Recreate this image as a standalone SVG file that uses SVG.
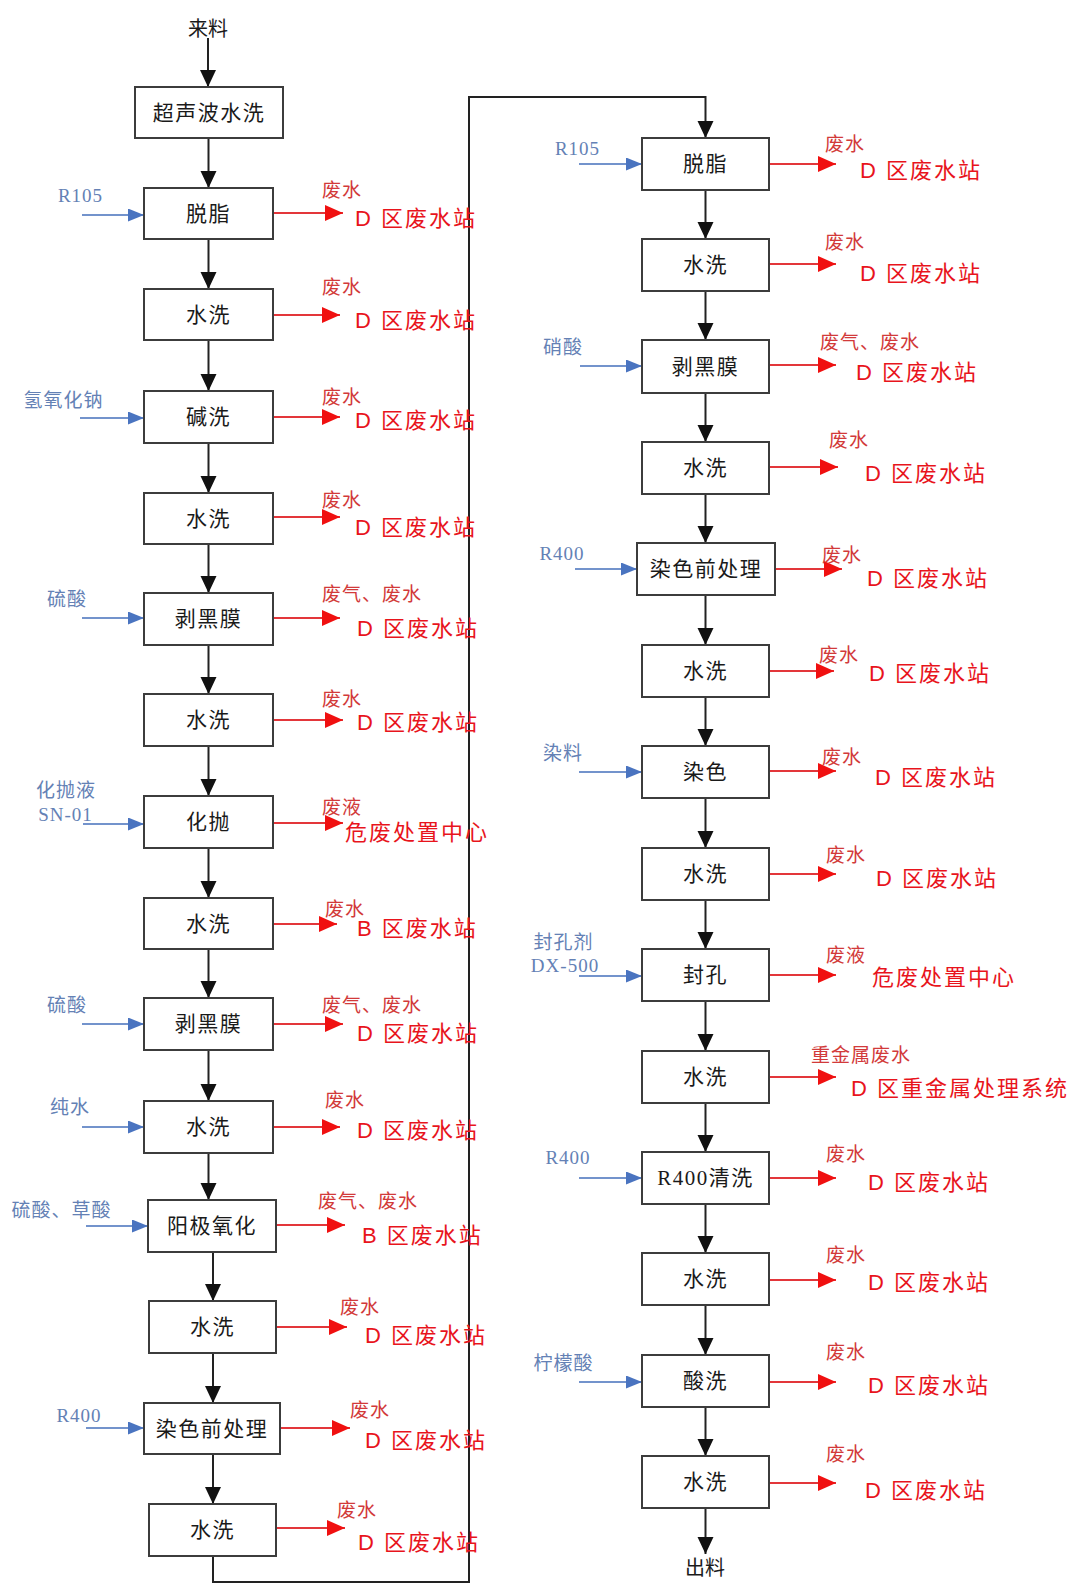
<svg xmlns="http://www.w3.org/2000/svg" width="1073" height="1584" viewBox="0 0 1073 1584">
<style>
.box{fill:#fff;stroke:#3c3c3c;stroke-width:2}
.bl{font-family:"Liberation Serif","Noto Sans CJK SC",serif;font-size:21px;fill:#1a1a1a;letter-spacing:1.5px;text-anchor:middle;dominant-baseline:central}
.term{font-family:"Noto Sans CJK SC",sans-serif;font-size:20px;fill:#1a1a1a;text-anchor:middle;dominant-baseline:central}
.in{font-family:"Liberation Serif","Noto Sans CJK SC",serif;font-size:19px;fill:#6481b5;letter-spacing:1px;text-anchor:middle;dominant-baseline:central}
.ws{font-family:"Noto Sans CJK SC",sans-serif;font-size:19px;fill:#d23a3a;letter-spacing:1px;dominant-baseline:central}
.wd{font-family:"Liberation Sans","Noto Sans CJK SC",sans-serif;font-size:22px;fill:#e8141c;letter-spacing:2px;dominant-baseline:central}
.k{stroke:#222;stroke-width:2;fill:none}
.r{stroke:#e3363a;stroke-width:2;fill:none}
.b{stroke:#7393cc;stroke-width:2;fill:none}
</style>
<defs>
<marker id="ak" markerUnits="userSpaceOnUse" markerWidth="18" markerHeight="17" refX="17" refY="8" orient="auto"><path d="M0,0 L17,8 L0,16 z" fill="#111"/></marker>
<marker id="ar" markerUnits="userSpaceOnUse" markerWidth="19" markerHeight="17" refX="18" refY="8" orient="auto"><path d="M0,0 L18,8 L0,16 z" fill="#f01010"/></marker>
<marker id="ab" markerUnits="userSpaceOnUse" markerWidth="17" markerHeight="14" refX="16" refY="6.5" orient="auto"><path d="M0,0 L16,6.5 L0,13 z" fill="#4a74c0"/></marker>
</defs>
<rect width="1073" height="1584" fill="#fff"/>

<g id="connectors">
<!-- main flow left -->
<line class="k" x1="208" y1="38" x2="208" y2="87" marker-end="url(#ak)"/>
<line class="k" x1="208.5" y1="138" x2="208.5" y2="188" marker-end="url(#ak)"/>
<line class="k" x1="208.5" y1="239" x2="208.5" y2="289" marker-end="url(#ak)"/>
<line class="k" x1="208.5" y1="340" x2="208.5" y2="391" marker-end="url(#ak)"/>
<line class="k" x1="208.5" y1="443" x2="208.5" y2="493" marker-end="url(#ak)"/>
<line class="k" x1="208.5" y1="544" x2="208.5" y2="593" marker-end="url(#ak)"/>
<line class="k" x1="208.5" y1="645" x2="208.5" y2="694" marker-end="url(#ak)"/>
<line class="k" x1="208.5" y1="746" x2="208.5" y2="796" marker-end="url(#ak)"/>
<line class="k" x1="208.5" y1="848" x2="208.5" y2="898" marker-end="url(#ak)"/>
<line class="k" x1="208.5" y1="949" x2="208.5" y2="998" marker-end="url(#ak)"/>
<line class="k" x1="208.5" y1="1050" x2="208.5" y2="1101" marker-end="url(#ak)"/>
<line class="k" x1="208.5" y1="1153" x2="208.5" y2="1200" marker-end="url(#ak)"/>
<line class="k" x1="213" y1="1252" x2="213" y2="1301" marker-end="url(#ak)"/>
<line class="k" x1="213" y1="1353" x2="213" y2="1403" marker-end="url(#ak)"/>
<line class="k" x1="213" y1="1454" x2="213" y2="1504" marker-end="url(#ak)"/>
<polyline class="k" points="213,1556 213,1582 469,1582 469,97 705.5,97 705.5,138" stroke="#555" marker-end="url(#ak)"/>
<!-- main flow right -->
<line class="k" x1="705.5" y1="190" x2="705.5" y2="239" marker-end="url(#ak)"/>
<line class="k" x1="705.5" y1="291" x2="705.5" y2="340" marker-end="url(#ak)"/>
<line class="k" x1="705.5" y1="393" x2="705.5" y2="442" marker-end="url(#ak)"/>
<line class="k" x1="705.5" y1="494" x2="705.5" y2="543" marker-end="url(#ak)"/>
<line class="k" x1="705.5" y1="595" x2="705.5" y2="645" marker-end="url(#ak)"/>
<line class="k" x1="705.5" y1="697" x2="705.5" y2="746" marker-end="url(#ak)"/>
<line class="k" x1="705.5" y1="798" x2="705.5" y2="848" marker-end="url(#ak)"/>
<line class="k" x1="705.5" y1="900" x2="705.5" y2="949" marker-end="url(#ak)"/>
<line class="k" x1="705.5" y1="1001" x2="705.5" y2="1051" marker-end="url(#ak)"/>
<line class="k" x1="705.5" y1="1103" x2="705.5" y2="1152" marker-end="url(#ak)"/>
<line class="k" x1="705.5" y1="1204" x2="705.5" y2="1253" marker-end="url(#ak)"/>
<line class="k" x1="705.5" y1="1305" x2="705.5" y2="1355" marker-end="url(#ak)"/>
<line class="k" x1="705.5" y1="1407" x2="705.5" y2="1456" marker-end="url(#ak)"/>
<line class="k" x1="705.5" y1="1508" x2="705.5" y2="1554" marker-end="url(#ak)"/>
<!-- inputs left -->
<line class="b" x1="82" y1="215" x2="144" y2="215" marker-end="url(#ab)"/>
<line class="b" x1="80" y1="418" x2="144" y2="418" marker-end="url(#ab)"/>
<line class="b" x1="82" y1="618" x2="144" y2="618" marker-end="url(#ab)"/>
<line class="b" x1="83" y1="824" x2="144" y2="824" marker-end="url(#ab)"/>
<line class="b" x1="82" y1="1024" x2="144" y2="1024" marker-end="url(#ab)"/>
<line class="b" x1="82" y1="1127" x2="144" y2="1127" marker-end="url(#ab)"/>
<line class="b" x1="86" y1="1226" x2="148" y2="1226" marker-end="url(#ab)"/>
<line class="b" x1="86" y1="1428" x2="144" y2="1428" marker-end="url(#ab)"/>
<!-- inputs right -->
<line class="b" x1="579" y1="164" x2="642" y2="164" marker-end="url(#ab)"/>
<line class="b" x1="580" y1="366" x2="642" y2="366" marker-end="url(#ab)"/>
<line class="b" x1="575" y1="569" x2="637" y2="569" marker-end="url(#ab)"/>
<line class="b" x1="579" y1="772" x2="642" y2="772" marker-end="url(#ab)"/>
<line class="b" x1="579" y1="976" x2="642" y2="976" marker-end="url(#ab)"/>
<line class="b" x1="579" y1="1178" x2="642" y2="1178" marker-end="url(#ab)"/>
<line class="b" x1="579" y1="1382" x2="642" y2="1382" marker-end="url(#ab)"/>
<!-- outputs left -->
<line class="r" x1="273" y1="213" x2="343" y2="213" marker-end="url(#ar)"/>
<line class="r" x1="273" y1="315" x2="340" y2="315" marker-end="url(#ar)"/>
<line class="r" x1="273" y1="417" x2="340" y2="417" marker-end="url(#ar)"/>
<line class="r" x1="273" y1="517" x2="340" y2="517" marker-end="url(#ar)"/>
<line class="r" x1="273" y1="618" x2="340" y2="618" marker-end="url(#ar)"/>
<line class="r" x1="273" y1="720" x2="343" y2="720" marker-end="url(#ar)"/>
<line class="r" x1="273" y1="823" x2="343" y2="823" marker-end="url(#ar)"/>
<line class="r" x1="273" y1="924" x2="337" y2="924" marker-end="url(#ar)"/>
<line class="r" x1="273" y1="1024" x2="343" y2="1024" marker-end="url(#ar)"/>
<line class="r" x1="273" y1="1127" x2="340" y2="1127" marker-end="url(#ar)"/>
<line class="r" x1="276" y1="1225" x2="345" y2="1225" marker-end="url(#ar)"/>
<line class="r" x1="276" y1="1327" x2="347" y2="1327" marker-end="url(#ar)"/>
<line class="r" x1="280" y1="1428" x2="350" y2="1428" marker-end="url(#ar)"/>
<line class="r" x1="276" y1="1528" x2="345" y2="1528" marker-end="url(#ar)"/>
<!-- outputs right -->
<line class="r" x1="769" y1="164" x2="836" y2="164" marker-end="url(#ar)"/>
<line class="r" x1="769" y1="264" x2="836" y2="264" marker-end="url(#ar)"/>
<line class="r" x1="769" y1="365" x2="836" y2="365" marker-end="url(#ar)"/>
<line class="r" x1="769" y1="467" x2="838" y2="467" marker-end="url(#ar)"/>
<line class="r" x1="775" y1="569" x2="842" y2="569" marker-end="url(#ar)"/>
<line class="r" x1="769" y1="671" x2="834" y2="671" marker-end="url(#ar)"/>
<line class="r" x1="769" y1="771" x2="836" y2="771" marker-end="url(#ar)"/>
<line class="r" x1="769" y1="874" x2="836" y2="874" marker-end="url(#ar)"/>
<line class="r" x1="769" y1="975" x2="836" y2="975" marker-end="url(#ar)"/>
<line class="r" x1="769" y1="1077" x2="836" y2="1077" marker-end="url(#ar)"/>
<line class="r" x1="769" y1="1178" x2="836" y2="1178" marker-end="url(#ar)"/>
<line class="r" x1="769" y1="1280" x2="836" y2="1280" marker-end="url(#ar)"/>
<line class="r" x1="769" y1="1382" x2="836" y2="1382" marker-end="url(#ar)"/>
<line class="r" x1="769" y1="1483" x2="836" y2="1483" marker-end="url(#ar)"/>
</g>

<g id="start"><text class="term" x="208" y="27">来料</text></g>
<g id="end"><text class="term" x="705" y="1566">出料</text></g>

<!-- left column nodes -->
<g id="L0"><rect class="box" x="135" y="87" width="148" height="51"/><text class="bl" x="209" y="112.5">超声波水洗</text></g>
<g id="L1"><rect class="box" x="144" y="188" width="129" height="51"/><text class="bl" x="208.5" y="213.5">脱脂</text></g>
<g id="L2"><rect class="box" x="144" y="289" width="129" height="51"/><text class="bl" x="208.5" y="314.5">水洗</text></g>
<g id="L3"><rect class="box" x="144" y="391" width="129" height="52"/><text class="bl" x="208.5" y="417">碱洗</text></g>
<g id="L4"><rect class="box" x="144" y="493" width="129" height="51"/><text class="bl" x="208.5" y="518.5">水洗</text></g>
<g id="L5"><rect class="box" x="144" y="593" width="129" height="52"/><text class="bl" x="208.5" y="619">剥黑膜</text></g>
<g id="L6"><rect class="box" x="144" y="694" width="129" height="52"/><text class="bl" x="208.5" y="720">水洗</text></g>
<g id="L7"><rect class="box" x="144" y="796" width="129" height="52"/><text class="bl" x="208.5" y="822">化抛</text></g>
<g id="L8"><rect class="box" x="144" y="898" width="129" height="51"/><text class="bl" x="208.5" y="923.5">水洗</text></g>
<g id="L9"><rect class="box" x="144" y="998" width="129" height="52"/><text class="bl" x="208.5" y="1024">剥黑膜</text></g>
<g id="L10"><rect class="box" x="144" y="1101" width="129" height="52"/><text class="bl" x="208.5" y="1127">水洗</text></g>
<g id="L11"><rect class="box" x="148" y="1200" width="128" height="52"/><text class="bl" x="212" y="1226">阳极氧化</text></g>
<g id="L12"><rect class="box" x="149" y="1301" width="127" height="52"/><text class="bl" x="212.5" y="1327">水洗</text></g>
<g id="L13"><rect class="box" x="144" y="1403" width="136" height="51"/><text class="bl" x="212" y="1428.5">染色前处理</text></g>
<g id="L14"><rect class="box" x="149" y="1504" width="127" height="52"/><text class="bl" x="212.5" y="1530">水洗</text></g>

<!-- right column nodes -->
<g id="R0"><rect class="box" x="642" y="138" width="127" height="52"/><text class="bl" x="705.5" y="164">脱脂</text></g>
<g id="R1"><rect class="box" x="642" y="239" width="127" height="52"/><text class="bl" x="705.5" y="265">水洗</text></g>
<g id="R2"><rect class="box" x="642" y="340" width="127" height="53"/><text class="bl" x="705.5" y="366.5">剥黑膜</text></g>
<g id="R3"><rect class="box" x="642" y="442" width="127" height="52"/><text class="bl" x="705.5" y="468">水洗</text></g>
<g id="R4"><rect class="box" x="637" y="543" width="138" height="52"/><text class="bl" x="706" y="569">染色前处理</text></g>
<g id="R5"><rect class="box" x="642" y="645" width="127" height="52"/><text class="bl" x="705.5" y="671">水洗</text></g>
<g id="R6"><rect class="box" x="642" y="746" width="127" height="52"/><text class="bl" x="705.5" y="772">染色</text></g>
<g id="R7"><rect class="box" x="642" y="848" width="127" height="52"/><text class="bl" x="705.5" y="874">水洗</text></g>
<g id="R8"><rect class="box" x="642" y="949" width="127" height="52"/><text class="bl" x="705.5" y="975">封孔</text></g>
<g id="R9"><rect class="box" x="642" y="1051" width="127" height="52"/><text class="bl" x="705.5" y="1077">水洗</text></g>
<g id="R10"><rect class="box" x="642" y="1152" width="127" height="52"/><text class="bl" x="705.5" y="1178">R400清洗</text></g>
<g id="R11"><rect class="box" x="642" y="1253" width="127" height="52"/><text class="bl" x="705.5" y="1279">水洗</text></g>
<g id="R12"><rect class="box" x="642" y="1355" width="127" height="52"/><text class="bl" x="705.5" y="1381">酸洗</text></g>
<g id="R13"><rect class="box" x="642" y="1456" width="127" height="52"/><text class="bl" x="705.5" y="1482">水洗</text></g>

<!-- input labels -->
<g id="inputs">
<text class="in" x="80.5" y="195">R105</text>
<text class="in" x="63.5" y="400">氢氧化钠</text>
<text class="in" x="67" y="599">硫酸</text>
<text class="in" x="66" y="790">化抛液</text>
<text class="in" x="65.5" y="814">SN-01</text>
<text class="in" x="67" y="1005">硫酸</text>
<text class="in" x="70" y="1107">纯水</text>
<text class="in" x="61.5" y="1210">硫酸、草酸</text>
<text class="in" x="79" y="1415">R400</text>
<text class="in" x="577.5" y="148">R105</text>
<text class="in" x="563" y="347">硝酸</text>
<text class="in" x="562" y="553">R400</text>
<text class="in" x="563" y="753">染料</text>
<text class="in" x="563.5" y="942">封孔剂</text>
<text class="in" x="565" y="965">DX-500</text>
<text class="in" x="568" y="1157">R400</text>
<text class="in" x="563.5" y="1363">柠檬酸</text>
</g>

<!-- output labels -->
<g id="outputs">
<text class="ws" x="322" y="188">废水</text><text class="wd" x="355" y="218">D 区废水站</text>
<text class="ws" x="322" y="285">废水</text><text class="wd" x="355" y="320">D 区废水站</text>
<text class="ws" x="322" y="395">废水</text><text class="wd" x="355" y="420">D 区废水站</text>
<text class="ws" x="322" y="498">废水</text><text class="wd" x="355" y="527">D 区废水站</text>
<text class="ws" x="322" y="592">废气、废水</text><text class="wd" x="357" y="628">D 区废水站</text>
<text class="ws" x="322" y="697">废水</text><text class="wd" x="357" y="722">D 区废水站</text>
<text class="ws" x="322" y="805">废液</text><text class="wd" x="345" y="832">危废处置中心</text>
<text class="ws" x="325" y="907">废水</text><text class="wd" x="357" y="928">B 区废水站</text>
<text class="ws" x="322" y="1003">废气、废水</text><text class="wd" x="357" y="1033">D 区废水站</text>
<text class="ws" x="325" y="1098">废水</text><text class="wd" x="357" y="1130">D 区废水站</text>
<text class="ws" x="318" y="1199">废气、废水</text><text class="wd" x="362" y="1235">B 区废水站</text>
<text class="ws" x="340" y="1305">废水</text><text class="wd" x="365" y="1335">D 区废水站</text>
<text class="ws" x="350" y="1408">废水</text><text class="wd" x="365" y="1440">D 区废水站</text>
<text class="ws" x="337" y="1508">废水</text><text class="wd" x="358" y="1542">D 区废水站</text>

<text class="ws" x="825" y="142">废水</text><text class="wd" x="860" y="170">D 区废水站</text>
<text class="ws" x="825" y="240">废水</text><text class="wd" x="860" y="273">D 区废水站</text>
<text class="ws" x="820" y="340">废气、废水</text><text class="wd" x="856" y="372">D 区废水站</text>
<text class="ws" x="829" y="438">废水</text><text class="wd" x="865" y="473">D 区废水站</text>
<text class="ws" x="822" y="553">废水</text><text class="wd" x="867" y="578">D 区废水站</text>
<text class="ws" x="819" y="653">废水</text><text class="wd" x="869" y="673">D 区废水站</text>
<text class="ws" x="822" y="755">废水</text><text class="wd" x="875" y="777">D 区废水站</text>
<text class="ws" x="826" y="853">废水</text><text class="wd" x="876" y="878">D 区废水站</text>
<text class="ws" x="826" y="953">废液</text><text class="wd" x="872" y="977">危废处置中心</text>
<text class="ws" x="811" y="1053">重金属废水</text><text class="wd" x="851" y="1088">D 区重金属处理系统</text>
<text class="ws" x="826" y="1152">废水</text><text class="wd" x="868" y="1182">D 区废水站</text>
<text class="ws" x="826" y="1253">废水</text><text class="wd" x="868" y="1282">D 区废水站</text>
<text class="ws" x="826" y="1350">废水</text><text class="wd" x="868" y="1385">D 区废水站</text>
<text class="ws" x="826" y="1452">废水</text><text class="wd" x="865" y="1490">D 区废水站</text>
</g>
</svg>
